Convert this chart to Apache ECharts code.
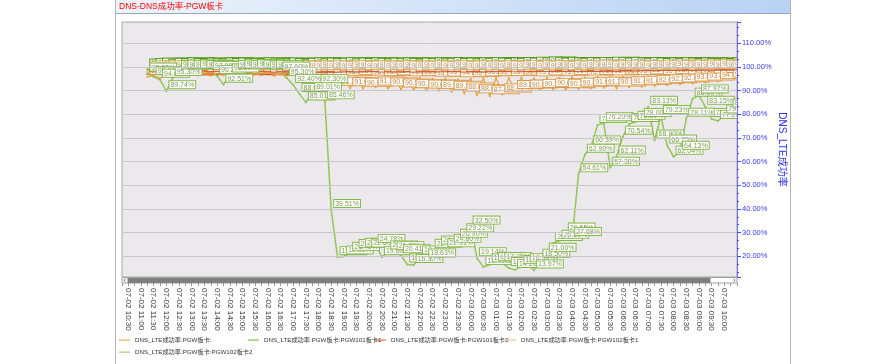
<!DOCTYPE html>
<html><head><meta charset="utf-8">
<script src="https://cdn.jsdelivr.net/npm/echarts@6/dist/echarts.min.js"></script>
<style>html,body{margin:0;padding:0;background:#fff;}#c{width:893px;height:364px;}</style>
</head><body><div id="c"></div>
<script>
const categories = [
 '07-02 10:15','07-02 10:30','07-02 10:45',
 '07-02 11:00','07-02 11:15','07-02 11:30','07-02 11:45',
 '07-02 12:00','07-02 12:15','07-02 12:30','07-02 12:45',
 '07-02 13:00','07-02 13:15','07-02 13:30','07-02 13:45',
 '07-02 14:00','07-02 14:15','07-02 14:30','07-02 14:45',
 '07-02 15:00','07-02 15:15','07-02 15:30','07-02 15:45',
 '07-02 16:00','07-02 16:15','07-02 16:30','07-02 16:45',
 '07-02 17:00','07-02 17:15','07-02 17:30','07-02 17:45',
 '07-02 18:00','07-02 18:15','07-02 18:30','07-02 18:45',
 '07-02 19:00','07-02 19:15','07-02 19:30','07-02 19:45',
 '07-02 20:00','07-02 20:15','07-02 20:30','07-02 20:45',
 '07-02 21:00','07-02 21:15','07-02 21:30','07-02 21:45',
 '07-02 22:00','07-02 22:15','07-02 22:30','07-02 22:45',
 '07-02 23:00','07-02 23:15','07-02 23:30','07-02 23:45',
 '07-03 00:00','07-03 00:15','07-03 00:30','07-03 00:45',
 '07-03 01:00','07-03 01:15','07-03 01:30','07-03 01:45',
 '07-03 02:00','07-03 02:15','07-03 02:30','07-03 02:45',
 '07-03 03:00','07-03 03:15','07-03 03:30','07-03 03:45',
 '07-03 04:00','07-03 04:15','07-03 04:30','07-03 04:45',
 '07-03 05:00','07-03 05:15','07-03 05:30','07-03 05:45',
 '07-03 06:00','07-03 06:15','07-03 06:30','07-03 06:45',
 '07-03 07:00','07-03 07:15','07-03 07:30','07-03 07:45',
 '07-03 08:00','07-03 08:15','07-03 08:30','07-03 08:45',
 '07-03 09:00','07-03 09:15','07-03 09:30','07-03 09:45',
 '07-03 10:00','07-03 10:15','07-03 10:30'
];

const seriesNames = [
 'DNS_LTE成功率:PGW板卡:',
 'DNS_LTE成功率:PGW板卡:PGW101板卡1',
 'DNS_LTE成功率:PGW板卡:PGW101板卡2',
 'DNS_LTE成功率:PGW板卡:PGW102板卡1',
 'DNS_LTE成功率:PGW板卡:PGW102板卡2'
];

const pgwAll = [null,null,null,null,
 95.8,96.4,95.2,96.6,95.9,96.8,96.2,96.9,96.4,96.7,
 96.3,96.8,96.5,96.9,96.4,96.7,96.2,96.8,96.5,96.9,
 96.3,96.7,96.4,96.8,96.2,96.6,95.9,96.4,95.8,
 95.6,91.2,95.4,91.0,95.7,90.8,95.5,91.3,95.3,90.9,
 95.6,90.5,95.2,90.2,95.4,90.0,95.0,89.9,95.1,89.5,
 94.8,88.8,95.0,88.0,95.2,87.6,95.4,88.4,95.3,89.8,
 95.5,90.0,95.2,90.3,95.6,90.6,95.4,90.2,95.7,90.8,
 95.5,91.0,95.8,91.2,95.6,90.9,95.9,91.4,95.7,91.6,
 96.0,92.0,95.8,92.3,96.1,92.6,96.0,93.0,96.3,93.4,
 96.4,94.0,96.6,94.6,96.8];

const pgw101b1 = [null,null,null,null,
 98.9,99.1,99.3,98.8,99.2,99.0,99.4,99.1,98.9,99.3,99.2,99.0,99.4,99.1,99.3,99.0,99.2,
 99.1,99.4,98.9,99.2,99.0,99.3,99.1,98.8,99.2,99.4,99.0,99.3,99.1,99.2,99.5,99.0,99.3,99.1,99.4,99.2,
 99.0,99.3,99.1,99.4,99.2,98.9,99.3,99.1,99.4,99.0,99.2,99.5,99.1,99.3,99.0,99.4,99.2,99.6,99.3,99.1,
 99.4,99.2,99.5,99.3,99.7,99.4,99.8,99.5,99.3,99.6,99.4,99.2,99.5,99.3,99.6,99.4,99.7,99.5,99.3,99.6,
 99.4,99.2,99.5,99.3,99.1,99.4,99.2,99.5,99.3,99.1,99.4,99.2,99.0,99.3,99.1,99.4,99.2];

const pgw101b2 = [null,null,null,null,
 96.9,97.2,96.8,97.0,97.3,97.1,96.9,97.2,97.4,97.0,97.1,96.8,97.2,97.3,97.0,96.9,97.1,
 97.2,97.0,96.8,97.1,97.3,96.9,97.0,97.2,96.7,96.9,97.1,97.0,96.8,97.2,97.0,96.9,97.1,97.3,97.0,96.8,
 97.1,96.9,97.2,97.0,96.8,97.1,97.3,97.0,96.9,97.2,97.0,97.1,96.8,97.0,97.2,96.9,97.1,97.0,97.3,97.1,
 96.9,97.2,97.0,97.1,97.3,97.0,97.2,97.4,97.1,97.3,97.0,97.2,97.4,97.1,97.3,97.5,97.2,97.4,97.6,97.3,
 97.5,97.7,97.4,97.6,97.8,97.5,97.7,97.9,97.6,97.8,98.0,97.7,97.9,98.1,97.8,98.0,97.9];

const pgw102b1 = [null,null,null,null,
 97.9,98.1,97.7,98.0,98.2,97.8,98.1,98.3,97.9,98.0,98.2,97.8,98.1,97.9,98.2,98.0,97.8,
 98.1,97.9,98.2,98.0,97.7,98.1,97.9,98.2,98.0,97.8,98.1,97.9,98.2,98.0,97.8,98.1,98.3,97.9,98.0,98.2,
 97.8,98.1,97.9,98.2,98.0,97.7,98.1,97.9,98.2,98.0,97.8,98.1,98.3,97.9,98.0,98.2,97.8,98.1,97.9,98.2,
 98.0,97.8,98.1,98.3,97.9,98.2,98.0,98.3,98.1,97.9,98.2,98.0,98.3,98.1,98.4,98.2,98.0,98.3,98.1,98.4,
 98.2,98.0,98.3,98.1,98.4,98.2,98.5,98.3,98.1,98.4,98.2,98.5,98.3,98.6,98.4,98.2,98.5];

const pgw102b2 = [null,null,null,null,
 97.20,95.80,94.60,89.74,95.30,98.10,98.40,98.20,98.50,98.30,
 97.90,96.20,92.51,96.80,98.30,98.50,98.20,98.60,98.40,98.10,
 98.30,97.60,95.30,92.40,88.60,85.01,89.01,92.30,85.46,39.51,
 19.60,19.90,21.40,22.57,23.10,22.80,24.78,19.60,22.00,21.70,
 20.41,16.50,16.30,19.90,18.63,22.70,24.10,22.91,24.80,26.90,
 29.22,32.50,19.14,15.40,16.50,17.10,17.05,15.00,14.20,15.80,
 16.58,13.97,18.50,21.00,25.60,26.50,29.55,27.68,54.61,62.90,
 66.39,75.50,76.20,57.38,62.11,70.54,75.90,76.80,78.00,83.13,
 68.90,79.23,66.75,62.04,64.13,78.11,86.60,87.97,83.15,78.00,
 77.20,79.50,82.00,81.50];

const FONT = '"Liberation Sans", Arial, "Noto Sans CJK SC", sans-serif';
const seriesData = [pgwAll, pgw101b1, pgw101b2, pgw102b1, pgw102b2];
const lineColors = ['#e8a040', '#6aae2c', '#d9541e', '#e6c07a', '#94c45a'];
const borderColors = ['#dc9a48', '#4f9a10', '#d45a2a', '#d8b070', '#86b84c'];
const textColors = ['#c08848', '#5a8a30', '#c05a30', '#b09060', '#7a9a50'];

const chart = echarts.init(document.getElementById('c'), null, {renderer: 'canvas'});

const series = seriesData.map((d, k) => ({
  name: seriesNames[k],
  type: 'line',
  data: d,
  symbol: 'circle',
  symbolSize: 2,
  showSymbol: true,
  showAllSymbol: true,
  connectNulls: false,
  lineStyle: {width: k === 4 ? 1.5 : 1.2, color: lineColors[k]},
  itemStyle: {color: lineColors[k]},
  emphasis: {disabled: true},
  label: {
    show: true,
    position: [4, -2],
    align: 'left',
    verticalAlign: 'bottom',
    formatter: p => (p.value == null ? '' : p.value.toFixed(2) + '%'),
    fontSize: 7,
    lineHeight: 6,
    fontFamily: FONT,
    color: textColors[k],
    backgroundColor: '#ffffff',
    borderColor: borderColors[k],
    borderWidth: 1,
    padding: [1, 1, 0, 1]
  }
}));

const legendLefts = [[119, 337], [248, 337], [375, 337], [505, 337], [119, 349]];
const legends = seriesNames.map((n, k) => ({
  data: [n],
  left: legendLefts[k][0],
  top: legendLefts[k][1],
  icon: 'rect',
  itemWidth: 11,
  itemHeight: 1,
  padding: 0,
  textStyle: {fontSize: 6.2, color: '#333', fontFamily: FONT},
  selectedMode: false
}));

chart.setOption({
  animation: false,
  backgroundColor: '#ffffff',
  title: {
    text: 'DNS-DNS成功率-PGW板卡',
    left: 119, top: 2, padding: 0,
    textStyle: {color: '#ff0000', fontSize: 8.5, fontWeight: 'normal', fontFamily: FONT}
  },
  legend: legends,
  grid: {
    left: 122, right: 156, top: 22, bottom: 87,
    show: true, backgroundColor: '#ece9ec', borderColor: '#a8a8a8', borderWidth: 1,
    containLabel: false
  },
  xAxis: {
    type: 'category',
    data: categories,
    boundaryGap: false,
    offset: 6,
    axisLine: {show: false},
    axisTick: {show: true, interval: 0, length: 3, lineStyle: {color: '#999'}},
    axisLabel: {
      rotate: -90,
      interval: (i) => i % 2 === 1 && i < 97,
      fontSize: 8, color: '#333', margin: 5, fontFamily: FONT
    },
    splitLine: {show: false}
  },
  yAxis: {
    type: 'value',
    position: 'right',
    z: 10,
    min: 11.2, max: 119, splitNumber: 10,
    name: 'DNS_LTE成功率',
    nameLocation: 'middle',
    nameRotate: -90,
    nameGap: 40,
    nameMoveOverlap: false,
    nameTextStyle: {color: '#3030e8', fontSize: 10, fontFamily: FONT},
    axisLine: {show: true, lineStyle: {color: '#7070ff'}},
    axisTick: {show: true, length: 4, lineStyle: {color: '#4848ff'}},
    minorTick: {show: true, splitNumber: 3, length: 2, lineStyle: {color: '#4848ff'}},
    axisLabel: {
      color: '#3a3af0', fontSize: 7.5, margin: 5, fontFamily: FONT,
      showMinLabel: false, showMaxLabel: false,
      formatter: v => v.toFixed(2) + '%'
    },
    splitLine: {show: true, lineStyle: {color: '#c9c6c9', width: 1}}
  },
  graphic: [
    {type: 'rect', z: -10, shape: {x: 115, y: 0, width: 675, height: 13},
     style: {fill: new echarts.graphic.LinearGradient(0, 0, 1, 0, [{offset: 0, color: '#edf3fc'}, {offset: 1, color: '#b8d2f3'}])}},
    {type: 'line', z: -5, shape: {x1: 115, y1: 13.5, x2: 790, y2: 13.5}, style: {stroke: '#98a8b8', lineWidth: 1}},
    {type: 'line', z: -5, shape: {x1: 115.5, y1: 0, x2: 115.5, y2: 364}, style: {stroke: '#b4b4b4', lineWidth: 1}},
    {type: 'line', z: 6, shape: {x1: 790.5, y1: 0, x2: 790.5, y2: 364}, style: {stroke: '#b4b4b4', lineWidth: 1}},
    {type: 'rect', z: 5, shape: {x: 737.6, y: 14, width: 52.4, height: 264}, style: {fill: '#ffffff'}},
    {type: 'rect', z: 50, shape: {x: 122, y: 277.5, width: 615, height: 5.5}, style: {fill: '#ffffff', stroke: '#a0a0a0', lineWidth: 1}},
    {type: 'rect', z: 51, shape: {x: 127.5, y: 278, width: 583, height: 5}, style: {fill: '#7f7f7f'}},
    {type: 'polyline', z: 52, shape: {points: [[125.5, 278.8], [123.8, 280.3], [125.5, 281.8]]}, style: {stroke: '#444', fill: null, lineWidth: 0.8}},
    {type: 'polyline', z: 52, shape: {points: [[733.5, 278.8], [735.2, 280.3], [733.5, 281.8]]}, style: {stroke: '#444', fill: null, lineWidth: 0.8}}
  ],
  series: series
});
</script>
</body></html>
